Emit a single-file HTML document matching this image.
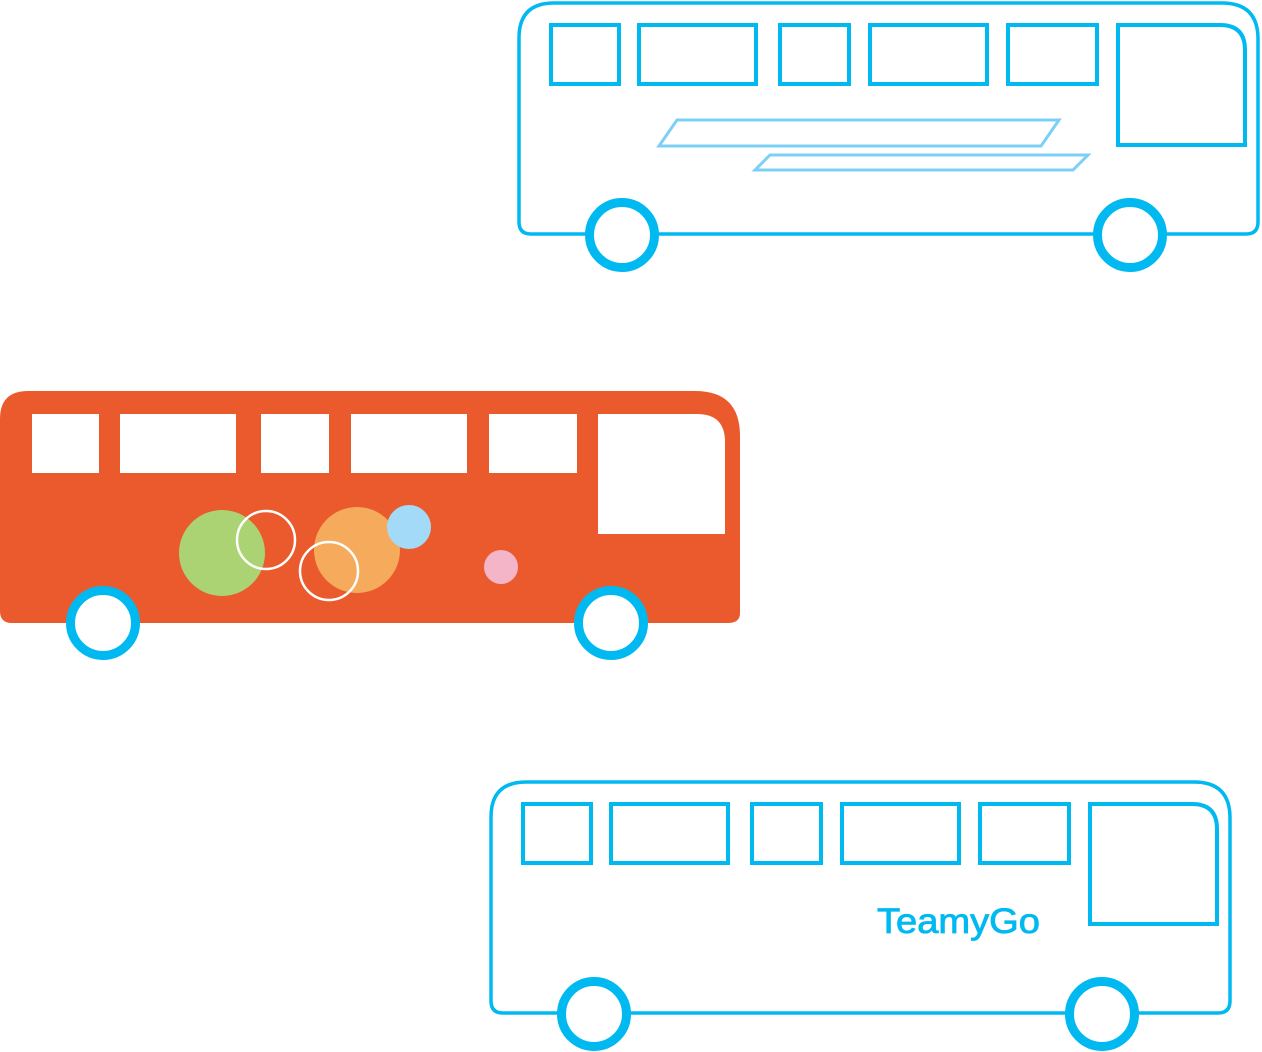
<!DOCTYPE html>
<html><head><meta charset="utf-8"><style>html,body{margin:0;padding:0;background:#fff}svg{display:block}</style></head>
<body>
<svg width="1262" height="1052" viewBox="0 0 1262 1052" xmlns="http://www.w3.org/2000/svg">
<defs>
<g id="bus">
  <path d="M519,38 Q519,3 554,3 L1222,3 Q1258,3 1258,39 L1258,222 Q1258,234 1246,234 L531,234 Q519,234 519,222 Z" fill="#fff" stroke="#00b9f1" stroke-width="3.5"/>
  <g fill="none" stroke="#00b9f1" stroke-width="4">
    <rect x="551" y="25" width="68" height="59"/>
    <rect x="639" y="25" width="117" height="59"/>
    <rect x="780" y="25" width="69" height="59"/>
    <rect x="870" y="25" width="117" height="59"/>
    <rect x="1008" y="25" width="89" height="59"/>
    <path d="M1118,25 L1220,25 Q1245,25 1245,50 L1245,145 L1118,145 Z"/>
  </g>
  <g fill="#fff" stroke="#00b9f1" stroke-width="9">
    <circle cx="622" cy="235" r="32.5"/>
    <circle cx="1130" cy="235" r="32.5"/>
  </g>
</g>
</defs>
<use href="#bus"/>
<g fill="none" stroke="#7dd0f5" stroke-width="3">
  <polygon points="677,120 1059,120 1041,146 659,146"/>
  <polygon points="770,155 1088,155 1073,170 755,170"/>
</g>

<path d="M0,419 Q0,391 28,391 L695,391 Q740,391 740,436 L740,613 Q740,623 728,623 L12,623 Q0,623 0,611 Z" fill="#eb5a2d"/>
<g fill="#fff">
  <rect x="32" y="414" width="67" height="59"/>
  <rect x="120" y="414" width="116" height="59"/>
  <rect x="261" y="414" width="68" height="59"/>
  <rect x="351" y="414" width="116" height="59"/>
  <rect x="489" y="414" width="88" height="59"/>
  <path d="M598,414 L697,414 Q725,414 725,442 L725,534 L598,534 Z"/>
</g>
<circle cx="222" cy="553" r="43" fill="#acd373"/>
<circle cx="357" cy="550" r="43" fill="#f5ab5b"/>
<circle cx="409" cy="527" r="22" fill="#a3daf7"/>
<circle cx="501" cy="567" r="17" fill="#f5b5c8"/>
<circle cx="266" cy="540" r="29" fill="none" stroke="#fff" stroke-width="2.5"/>
<circle cx="329" cy="571" r="29" fill="none" stroke="#fff" stroke-width="2.5"/>
<g fill="#fff" stroke="#00b9f1" stroke-width="9">
  <circle cx="103" cy="623" r="32.5"/>
  <circle cx="611" cy="623" r="32.5"/>
</g>

<use href="#bus" transform="translate(-28,779)"/>
<text x="877" y="933" font-family="Liberation Sans, sans-serif" font-size="35" fill="#00b9f1" stroke="#00b9f1" stroke-width="0.8" textLength="163" lengthAdjust="spacingAndGlyphs">TeamyGo</text>
</svg>
</body></html>
